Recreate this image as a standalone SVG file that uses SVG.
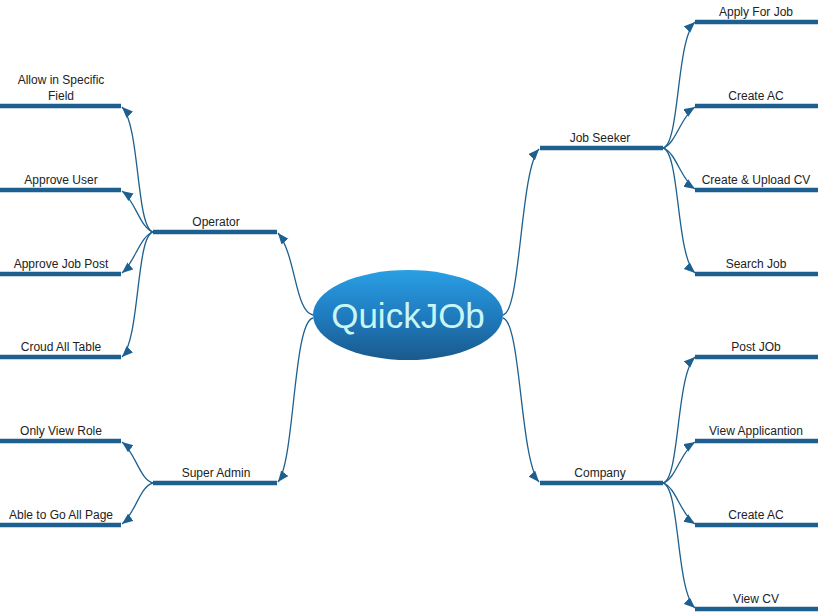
<svg xmlns="http://www.w3.org/2000/svg" width="818" height="613" viewBox="0 0 818 613">
<defs>
<linearGradient id="g" x1="0" y1="0" x2="0" y2="1">
<stop offset="0" stop-color="#2a9fe4"/>
<stop offset="0.5" stop-color="#1f7cc0"/>
<stop offset="1" stop-color="#1a5a8c"/>
</linearGradient>
<marker id="ah" markerUnits="userSpaceOnUse" markerWidth="12" markerHeight="10" refX="11" refY="4.5" orient="auto">
<path d="M0,0 L11,4.5 L0,9 z" fill="#1d6090"/>
</marker>
<style>
.bar{stroke:#1d6090;stroke-width:4.5;fill:none}
.c{stroke:#1d6090;stroke-width:1.3;fill:none;marker-end:url(#ah)}
.t{font-family:"Liberation Sans",Arial,sans-serif;font-size:12px;fill:#222;text-anchor:middle}
</style>
</defs>
<rect width="818" height="613" fill="#fff"/>
<g id="connectors">
<path class="c" d="M313,315 C295,312 296,255 278,233"/>
<path class="c" d="M313,318 C293,322 295,460 278,482"/>
<path class="c" d="M503,315 C521,312 520,170 539,149"/>
<path class="c" d="M503,318 C521,322 520,460 539,482"/>
<path class="c" d="M153,232 C136,228 140,125 122,107"/>
<path class="c" d="M153,232 C140,228 135,200 122,191"/>
<path class="c" d="M153,232 C140,236 135,262 122,273"/>
<path class="c" d="M153,232 C136,236 140,339 122,357"/>
<path class="c" d="M153,483 C140,480 135,452 122,442"/>
<path class="c" d="M153,483 C140,486 135,514 122,524"/>
<path class="c" d="M663,148 C680,144 676,40 695,22"/>
<path class="c" d="M663,148 C676,144 681,116 695,107"/>
<path class="c" d="M663,148 C676,152 681,180 695,189"/>
<path class="c" d="M663,148 C680,152 676,256 695,273"/>
<path class="c" d="M663,483 C680,479 676,375 695,357"/>
<path class="c" d="M663,483 C676,479 681,451 695,442"/>
<path class="c" d="M663,483 C676,487 681,515 695,524"/>
<path class="c" d="M663,483 C680,487 676,591 695,608"/>
</g>
<g id="center">
<ellipse cx="408" cy="315" rx="95" ry="45" fill="url(#g)"/>
<text x="408" y="328" font-family="Liberation Sans, Arial, sans-serif" font-size="35" fill="#c8f6f4" text-anchor="middle">QuickJOb</text>
</g>
<g id="operator"><line class="bar" x1="153" y1="232" x2="277" y2="232"/><text class="t" x="216" y="226">Operator</text></g>
<g id="superadmin"><line class="bar" x1="153" y1="483" x2="277" y2="483"/><text class="t" x="216" y="477">Super Admin</text></g>
<g id="jobseeker"><line class="bar" x1="540" y1="148" x2="663" y2="148"/><text class="t" x="600" y="142">Job Seeker</text></g>
<g id="company"><line class="bar" x1="540" y1="483" x2="663" y2="483"/><text class="t" x="600" y="477">Company</text></g>
<g id="allow"><line class="bar" x1="0" y1="106" x2="121" y2="106"/><text class="t" x="61" y="84">Allow in Specific</text><text class="t" x="61" y="100">Field</text></g>
<g id="approveuser"><line class="bar" x1="0" y1="190" x2="121" y2="190"/><text class="t" x="61" y="184">Approve User</text></g>
<g id="approvejob"><line class="bar" x1="0" y1="274" x2="121" y2="274"/><text class="t" x="61" y="268">Approve Job Post</text></g>
<g id="croud"><line class="bar" x1="0" y1="357" x2="121" y2="357"/><text class="t" x="61" y="351">Croud All Table</text></g>
<g id="onlyview"><line class="bar" x1="0" y1="441" x2="121" y2="441"/><text class="t" x="61" y="435">Only View Role</text></g>
<g id="able"><line class="bar" x1="0" y1="525" x2="121" y2="525"/><text class="t" x="61" y="519">Able to Go All Page</text></g>
<g id="apply"><line class="bar" x1="695" y1="22" x2="818" y2="22"/><text class="t" x="756" y="16">Apply For Job</text></g>
<g id="createac1"><line class="bar" x1="695" y1="106" x2="818" y2="106"/><text class="t" x="756" y="100">Create AC</text></g>
<g id="createcv"><line class="bar" x1="695" y1="190" x2="818" y2="190"/><text class="t" x="756" y="184">Create &amp; Upload CV</text></g>
<g id="searchjob"><line class="bar" x1="695" y1="274" x2="818" y2="274"/><text class="t" x="756" y="268">Search Job</text></g>
<g id="postjob"><line class="bar" x1="695" y1="357" x2="818" y2="357"/><text class="t" x="756" y="351">Post JOb</text></g>
<g id="viewapp"><line class="bar" x1="695" y1="441" x2="818" y2="441"/><text class="t" x="756" y="435">View Applicantion</text></g>
<g id="createac2"><line class="bar" x1="695" y1="525" x2="818" y2="525"/><text class="t" x="756" y="519">Create AC</text></g>
<g id="viewcv"><line class="bar" x1="695" y1="609" x2="818" y2="609"/><text class="t" x="756" y="603">View CV</text></g>
</svg>
